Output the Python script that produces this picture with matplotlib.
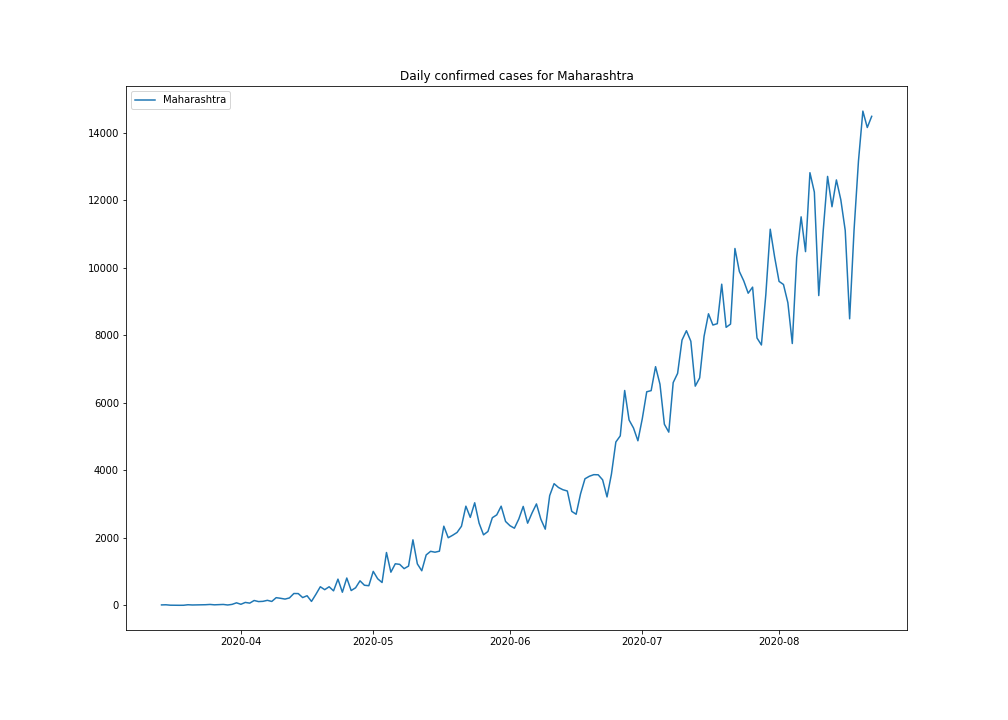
"""
Daily confirmed COVID-19 cases for Maharashtra, 14 Mar - 22 Aug 2020.
"""
import matplotlib
matplotlib.use('Agg')
import matplotlib.pyplot as plt
import numpy as np

state = 'Maharashtra'
start_date = '2020-03-14'

cases_mar = [14, 18, 6, 3, 3, 4, 19, 12, 15, 15, 20, 28, 17, 23, 28, 12, 30, 76]
cases_apr = [33, 88, 67, 145, 113, 120, 150, 117, 229, 210,
             187, 221, 352, 350, 232, 286, 118, 328, 552, 466,
             552, 431, 778, 390, 811, 440, 522, 728, 597, 583]
cases_may = [1008, 790, 678, 1567, 984, 1233, 1216, 1089, 1165, 1943,
             1230, 1026, 1495, 1602, 1576, 1606, 2347, 2005, 2078, 2161,
             2345, 2940, 2608, 3041, 2436, 2091, 2190, 2598, 2682, 2940,
             2487]
cases_jun = [2361, 2287, 2560, 2933, 2436, 2739, 3007, 2553, 2259, 3254,
             3607, 3493, 3427, 3390, 2786, 2701, 3307, 3752, 3827, 3874,
             3870, 3721, 3214, 3890, 4841, 5024, 6368, 5493, 5257, 4878]
cases_jul = [5537, 6330, 6364, 7074, 6555, 5368, 5134, 6603, 6875, 7862,
             8139, 7827, 6497, 6741, 7975, 8641, 8308, 8348, 9518, 8240,
             8336, 10576, 9895, 9615, 9251, 9431, 7924, 7717, 9211, 11147,
             10320]
cases_aug = [9601, 9509, 8968, 7760, 10309, 11514, 10483, 12822, 12248, 9181,
             11088, 12712, 11813, 12608, 12020, 11111, 8493, 11119, 13165, 14647,
             14161, 14492]

daily = cases_mar + cases_apr + cases_may + cases_jun + cases_jul + cases_aug
dates = np.datetime64(start_date) + np.arange(len(daily))

fig, ax = plt.subplots(figsize=(14, 10), dpi=72)
fig.subplots_adjust(left=0.125, right=0.9, bottom=0.125, top=0.88)
ax.plot(dates.astype('datetime64[D]').astype(object), daily, label=state)
ax.set_title(f'Daily confirmed cases for {state}')
ax.legend(loc='upper left')

fig.savefig('out.png', dpi=72)
